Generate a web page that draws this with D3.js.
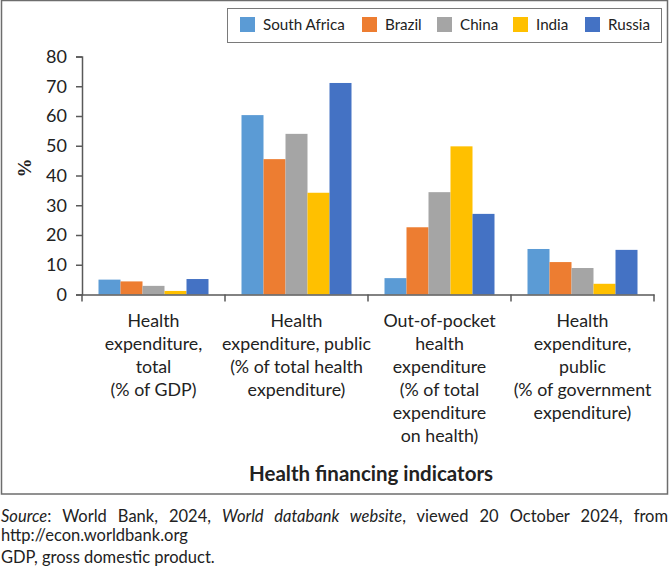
<!DOCTYPE html>
<html>
<head>
<meta charset="utf-8">
<script src="https://cdn.jsdelivr.net/npm/d3@7"></script>
<style>
  body { margin: 0; background: #fff; }
  svg { display: block; font-family: Lato, "Open Sans", sans-serif; }
</style>
</head>
<body>
<div id="chart"></div>
<script>
// Chart values
const countries = ["South Africa", "Brazil", "China", "India", "Russia"];
const colors = ["#5b9bd5", "#ed7d31", "#a5a5a5", "#ffc000", "#4472c4"];
const indicators = ["total_gdp", "public_total", "oop", "public_gov"];
const indicatorLabels = [
    ["Health", "expenditure,", "total", "(% of GDP)"],
    ["Health", "expenditure, public", "(% of total health", "expenditure)"],
    ["Out-of-pocket", "health", "expenditure", "(% of total", "expenditure", "on health)"],
    ["Health", "expenditure,", "public", "(% of government", "expenditure)"]
];
const southAfrica = [5.0, 60.3, 5.5, 15.3];
const brazil = [4.4, 45.5, 22.6, 10.9];
const china = [2.9, 54.0, 34.4, 8.9];
const india = [1.2, 34.2, 49.8, 3.6];
const russia = [5.2, 71.1, 27.1, 15.0];
const yTicks = [0, 10, 20, 30, 40, 50, 60, 70, 80];

const seriesValues = [southAfrica, brazil, china, india, russia];
const data = indicators.map((k, i) => ({
    key: k,
    values: countries.map((c, j) => ({ country: c, value: seriesValues[j][i] }))
}));

const W = 670, H = 569;
const plot = { left: 82, right: 654, top: 56.5, bottom: 294.5 };
const axisColor = "#595959";

const svg = d3.select("#chart").append("svg")
    .attr("width", W)
    .attr("height", H);

// outer frame
svg.append("rect")
    .attr("x", 1.5).attr("y", 0.5)
    .attr("width", 666).attr("height", 493.5)
    .attr("fill", "none")
    .attr("stroke", "#6d6d6d")
    .attr("stroke-width", 1.5);

const x0 = d3.scaleBand()
    .domain(indicators)
    .range([plot.left, plot.right]);

const x1 = d3.scaleBand()
    .domain(countries)
    .range([0, x0.bandwidth()])
    .paddingOuter(0.75);

const y = d3.scaleLinear()
    .domain([0, 80])
    .range([plot.bottom, plot.top]);

const color = d3.scaleOrdinal().domain(countries).range(colors);

// bars
svg.append("g")
    .selectAll("g")
    .data(data)
    .enter().append("g")
    .attr("transform", d => "translate(" + x0(d.key) + ",0)")
    .selectAll("rect")
    .data(d => d.values)
    .enter().append("rect")
    .attr("x", d => x1(d.country))
    .attr("y", d => y(d.value))
    .attr("width", x1.bandwidth())
    .attr("height", d => y(0) - y(d.value))
    .attr("fill", d => color(d.country));

// y axis
const yAxis = svg.append("g")
    .attr("transform", "translate(" + plot.left + ",0)")
    .call(d3.axisLeft(y).tickValues(yTicks).tickSize(6).tickPadding(9));
yAxis.select(".domain").attr("stroke", axisColor).attr("stroke-width", 1.5);
yAxis.selectAll(".tick line").attr("stroke", axisColor).attr("stroke-width", 1.5);
yAxis.selectAll("text")
    .style("font-family", "Lato, sans-serif")
    .style("font-size", "18px")
    .attr("fill", "#222");

// x axis: baseline plus ticks at category boundaries
const xAxis = svg.append("g")
    .attr("transform", "translate(0," + plot.bottom + ")")
    .call(d3.axisBottom(x0).tickSize(0).tickFormat(""));
xAxis.select(".domain").attr("stroke", axisColor).attr("stroke-width", 1.5);

const boundaries = indicators.map(k => x0(k)).concat([x0.range()[1]]);
xAxis.selectAll(".boundary")
    .data(boundaries)
    .enter().append("line")
    .attr("class", "boundary")
    .attr("x1", d => d).attr("x2", d => d)
    .attr("y1", 0).attr("y2", 7)
    .attr("stroke", axisColor)
    .attr("stroke-width", 1.5);

// category labels
const catLabels = svg.append("g");
indicators.forEach((k, i) => {
    const t = catLabels.append("text")
        .attr("x", x0(k) + x0.bandwidth() / 2)
        .attr("y", 327)
        .attr("text-anchor", "middle")
        .style("font-size", "17.8px")
        .attr("fill", "#222");
    indicatorLabels[i].forEach((line, j) => {
        t.append("tspan")
            .attr("x", x0(k) + x0.bandwidth() / 2)
            .attr("y", 327 + j * 23)
            .text(line);
    });
});

// axis titles
svg.append("text")
    .attr("x", 371)
    .attr("y", 481)
    .attr("text-anchor", "middle")
    .style("font-size", "20.5px")
    .style("font-weight", "bold")
    .attr("fill", "#222")
    .text("Health financing indicators");

svg.append("text")
    .attr("transform", "translate(31,168) rotate(-90)")
    .attr("text-anchor", "middle")
    .style("font-family", "'Liberation Serif', serif")
    .style("font-size", "19px")
    .style("font-weight", "bold")
    .attr("fill", "#222")
    .text("%");

// legend
const legend = svg.append("g");
legend.append("rect")
    .attr("x", 227.5).attr("y", 8.5)
    .attr("width", 434).attr("height", 34)
    .attr("fill", "#fff")
    .attr("stroke", "#7a7a7a")
    .attr("stroke-width", 1);

const legendX = [240, 362, 437, 513, 585];
const items = legend.selectAll(".item")
    .data(countries)
    .enter().append("g")
    .attr("class", "item")
    .attr("transform", (d, i) => "translate(" + legendX[i] + ",17)");
items.append("rect")
    .attr("width", 15).attr("height", 15)
    .attr("fill", d => color(d));
items.append("text")
    .attr("x", 23).attr("y", 13)
    .style("font-size", "15.2px")
    .attr("fill", "#222")
    .text(d => d);

// footnotes
const foot = svg.append("g")
    .style("font-size", "16.5px")
    .attr("fill", "#222");

const src = foot.append("text").attr("x", 1).attr("y", 522);
src.append("tspan").style("font-style", "italic").text("Source");
src.append("tspan").text(": World Bank, 2024, ");
src.append("tspan").style("font-style", "italic").text("World databank website");
src.append("tspan").text(", viewed 20 October 2024, from");

// justify the first line across the page width
const natural = src.node().getComputedTextLength();
const spaces = 11;
src.attr("word-spacing", Math.max(0, (667 - natural) / spaces));

foot.append("text").attr("x", 1).attr("y", 541).text("http://econ.worldbank.org");
foot.append("text").attr("x", 1).attr("y", 563).text("GDP, gross domestic product.");
</script>
</body>
</html>
